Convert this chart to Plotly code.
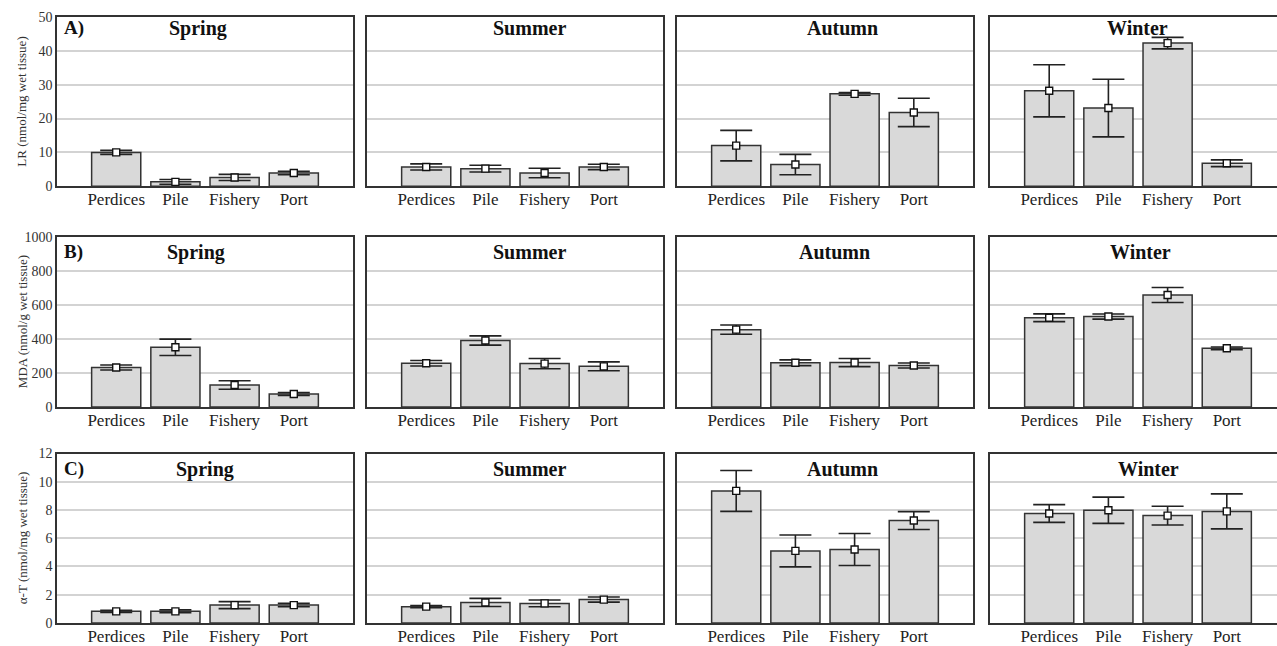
import plotly.graph_objects as go

# ---------------- data ----------------
categories = ["Perdices", "Pile", "Fishery", "Port"]
seasons = ["Spring", "Summer", "Autumn", "Winter"]

# LR (nmol/mg wet tissue): rows = seasons, cols = categories
lr_mean = [[10.0, 1.3, 2.6, 3.9],
           [5.7, 5.2, 3.9, 5.7],
           [12.0, 6.4, 27.3, 21.8],
           [28.2, 23.1, 42.3, 6.8]]
lr_err = [[0.6, 0.7, 0.9, 0.5],
          [0.9, 1.0, 1.4, 0.8],
          [4.5, 3.0, 0.4, 4.2],
          [7.7, 8.5, 1.7, 1.0]]

# MDA (nmol/g wet tissue)
mda_mean = [[233, 352, 130, 77],
            [258, 392, 256, 240],
            [456, 261, 262, 245],
            [526, 533, 660, 346]]
mda_err = [[15, 48, 25, 8],
           [16, 27, 30, 26],
           [27, 17, 24, 15],
           [23, 15, 44, 8]]

# alpha-T (nmol/mg wet tissue)
at_mean = [[0.82, 0.82, 1.26, 1.26],
           [1.15, 1.45, 1.38, 1.65],
           [9.35, 5.1, 5.2, 7.25],
           [7.75, 7.98, 7.6, 7.9]]
at_err = [[0.08, 0.1, 0.25, 0.12],
          [0.08, 0.29, 0.24, 0.18],
          [1.45, 1.13, 1.13, 0.63],
          [0.63, 0.93, 0.66, 1.24]]

row_labels = ["A)", "B)", "C)"]
y_titles = ["LR (nmol/mg wet tissue)", "MDA (nmol/g wet tissue)", "\u03b1-T (nmol/mg wet tissue)"]
y_max = [50, 1000, 12]
y_step = [10, 200, 2]

rows_data = [(lr_mean, lr_err), (mda_mean, mda_err), (at_mean, at_err)]

# ---------------- layout geometry (target pixels) ----------------
W, H = 1277, 646
col_px = [(57, 353), (367, 663), (677, 973), (990, 1277)]
row_px = [(15.7, 186), (237.3, 408.3), (455, 625.5)]
unit_px = (353 - 57) / 5.0
title_off = [[141, 162, 165, 147], [139, 162, 158, 150], [148, 162, 165, 158]]
title_y = [27, 252.5, 471]
V_SCALE, V_OFF = 0.98, 5.6   # vertical correction of the capture

FONT = "Liberation Serif"
BAR_FILL = "#d9d9d9"
EDGE = "#333333"
GRID = "#d3d3d3"


def px_x(p):
    return p / W


def px_y(p):
    return 1 - ((p - V_OFF) / V_SCALE) / H


fig = go.Figure()
layout = dict(width=W, height=H, margin=dict(l=0, r=0, t=0, b=0),
              paper_bgcolor="white", plot_bgcolor="white", showlegend=False,
              font=dict(family=FONT, color="#222"))
annotations = []

for r in range(3):
    means, errs = rows_data[r]
    for c in range(4):
        k = r * 4 + c + 1
        xn = "x" if k == 1 else f"x{k}"
        yn = "y" if k == 1 else f"y{k}"
        xa = "xaxis" if k == 1 else f"xaxis{k}"
        ya = "yaxis" if k == 1 else f"yaxis{k}"
        x0, x1 = col_px[c]
        y0, y1 = row_px[r]
        xr_end = -1 + (x1 - x0) / unit_px
        fig.add_trace(go.Bar(x=list(range(4)), y=means[c], width=0.83,
                             marker=dict(color=BAR_FILL, line=dict(color=EDGE, width=1.5)),
                             xaxis=xn, yaxis=yn, hoverinfo="skip"))
        fig.add_trace(go.Scatter(x=list(range(4)), y=means[c], mode="markers",
                                 marker=dict(symbol="square", size=7, color="white",
                                             line=dict(color="#111", width=1.4)),
                                 error_y=dict(type="data", array=errs[c], color="#222",
                                              thickness=1.6, width=16),
                                 xaxis=xn, yaxis=yn, hoverinfo="skip"))
        layout[xa] = dict(domain=[px_x(x0), px_x(x1)], anchor=yn, range=[-1, xr_end],
                          tickvals=list(range(4)), ticktext=categories,
                          showgrid=False, zeroline=False, showline=True, mirror=True,
                          linecolor=EDGE, linewidth=1.5, ticks="",
                          tickfont=dict(family=FONT, size=17, color="#222"),
                          ticklabelstandoff=-3, fixedrange=True)
        layout[ya] = dict(domain=[px_y(y1), px_y(y0)], anchor=xn, range=[0, y_max[r]],
                          dtick=y_step[r], tick0=0, showgrid=True, gridcolor=GRID, gridwidth=1.5,
                          zeroline=False, showline=True, mirror=(c < 3),
                          linecolor=EDGE, linewidth=1.5, ticks="",
                          showticklabels=(c == 0),
                          tickfont=dict(family=FONT, size=14, color="#333"),
                          fixedrange=True)
        annotations.append(dict(text=f"<b>{seasons[c]}</b>", x=px_x(x0 + title_off[r][c]),
                                y=px_y(title_y[r]), xref="paper", yref="paper",
                                showarrow=False, xanchor="center", yanchor="middle",
                                font=dict(family=FONT, size=20, color="#111")))
    annotations.append(dict(text=f"<b>{row_labels[r]}</b>", x=px_x(62), y=px_y(title_y[r]),
                            xref="paper", yref="paper", showarrow=False,
                            xanchor="left", yanchor="middle",
                            font=dict(family=FONT, size=19, color="#111")))
    annotations.append(dict(text=y_titles[r], x=px_x(22), y=px_y((row_px[r][0] + row_px[r][1]) / 2),
                            xref="paper", yref="paper", showarrow=False, textangle=-90,
                            xanchor="center", yanchor="middle",
                            font=dict(family=FONT, size=13, color="#333")))

layout["annotations"] = annotations
fig.update_layout(**layout)
fig.write_html("out.html")
